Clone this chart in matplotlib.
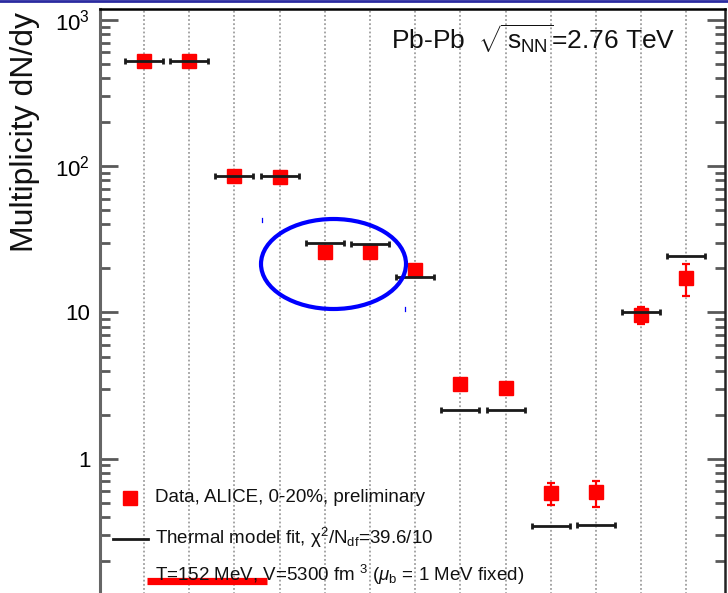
import matplotlib
matplotlib.use("Agg")
import matplotlib.pyplot as plt
from matplotlib.patches import Ellipse
from matplotlib.lines import Line2D
from matplotlib.ticker import LogLocator, FixedFormatter, FixedLocator

plt.rcParams['font.family'] = ['Liberation Sans', 'DejaVu Sans']
plt.rcParams['mathtext.fontset'] = 'custom'
plt.rcParams['mathtext.rm'] = 'Liberation Sans'
plt.rcParams['mathtext.it'] = 'Liberation Sans:italic'
plt.rcParams['mathtext.bf'] = 'Liberation Sans:bold'

# particle species along the x axis (one bin each)
particles = ['pi+', 'pi-', 'K+', 'K-', 'p', 'pbar', 'Lambda', 'Xi-', 'Xi+',
             'Omega-', 'Omega+', 'K0s', 'phi']
positions = list(range(1, len(particles) + 1))

# measured yields dN/dy with errors
data_vals = [525, 525, 86, 85, 26, 26, 19.5, 3.25, 3.05, 0.58, 0.59, 9.6, 17.2]
data_errs = [30, 30, 5, 5, 1.8, 1.8, 1.4, 0.22, 0.21, 0.10, 0.12, 1.3, 4.3]

# thermal model values
fit_vals = [525, 525, 86, 86, 30, 29.6, 17.6, 2.16, 2.16, 0.345, 0.35, 10.0, 24.5]

ytick_vals = [1, 10, 100, 1000]
ytick_text = ['1', '10', r'$10^{2}$', r'$10^{3}$']

W, H = 728, 593
fig = plt.figure(figsize=(W / 100, H / 100), dpi=100)


def fx(px):
    return px / W


def fy(py):
    return 1 - py / H


# axes frame in pixels: left 100, right 725, top 9, y=0.1 falls at 605
ax = fig.add_axes([fx(100), fy(605), fx(725) - fx(100), fy(9) - fy(605)])
ax.set_yscale('log')
ax.set_ylim(0.1, 10 ** (3 + 11 / 146.3))
ax.set_xlim(1 + (100 - 144) / 45.2, 1 + (725 - 144) / 45.2)

for p in positions:
    ax.axvline(p, ls=(0, (1, 1.3)), lw=1.3, color='0.62', zorder=1)

ax.errorbar(positions, data_vals, yerr=data_errs, fmt='s', color='red',
            ms=10.5, mec='red', elinewidth=1.6, capsize=3, capthick=1.6, zorder=3)
ax.errorbar(positions, fit_vals, xerr=0.42, fmt='none', ecolor='#1a1a1a',
            elinewidth=2, capsize=2.5, capthick=2, zorder=4)

# axis styling
ax.set_xticks([])
ax.yaxis.set_major_locator(FixedLocator(ytick_vals))
ax.yaxis.set_major_formatter(FixedFormatter(ytick_text))
ax.yaxis.set_minor_locator(LogLocator(base=10, subs=range(2, 10)))
ax.tick_params(axis='y', which='both', direction='in', right=True,
               color='0.35', width=2, labelsize=16, pad=7)
ax.tick_params(axis='y', which='major', length=13)
ax.tick_params(axis='y', which='minor', length=7)
ax.yaxis.set_minor_formatter(plt.NullFormatter())
ax.spines['left'].set_color('0.4')
ax.spines['left'].set_linewidth(2.2)
ax.spines['top'].set_linewidth(1.8)
ax.spines['right'].set_linewidth(1.8)
ax.spines['right'].set_color('#222222')

fig.text(fx(25), fy(132), 'Multiplicity dN/dy', rotation=90, fontsize=23,
         ha='center', va='center', color='#111111')

fig.text(fx(391), fy(50), r'Pb-Pb  $\sqrt{\,{\rm s}_{\rm NN}}$=2.76 TeV',
         fontsize=19, ha='left', va='baseline', color='#111111')

# legend block
fig.add_artist(Line2D([fx(130)], [fy(498)], marker='s', ms=10, color='red',
                      ls='none'))
fig.text(fx(155), fy(498), 'Data, ALICE, 0-20%, preliminary', fontsize=13.5,
         ha='left', va='center', color='#111111')
fig.add_artist(Line2D([fx(113), fx(148)], [fy(539), fy(539)], color='#1a1a1a',
                      lw=2))
fig.text(fx(155), fy(538), r'Thermal model fit, χ$^{2}$/N$_{\rm df}$=39.6/10',
         fontsize=13.5, ha='left', va='center', color='#111111')
fig.text(fx(155), fy(575), r'T=152 MeV, V=5300 fm $^{3}$ ($\mu_{\rm b}$ = 1 MeV fixed)',
         fontsize=13.5, ha='left', va='center', color='#111111')

# red underline and blue ellipse marks
fig.add_artist(Line2D([fx(147), fx(267)], [fy(580.5), fy(580.5)], color='red',
                      lw=5.2, solid_capstyle='butt'))
fig.add_artist(Ellipse((fx(333.5), fy(264)), width=145 / W, height=90 / H,
                       transform=fig.transFigure, fill=False, ec='#0000ff',
                       lw=3))
fig.add_artist(Line2D([fx(262), fx(262)], [fy(218), fy(222)], color='#0000ff',
                      lw=0.9))
fig.add_artist(Line2D([fx(405), fx(405)], [fy(307), fy(311)], color='#0000ff',
                      lw=0.9))

# slide border along the top
fig.add_artist(Line2D([0, 1], [fy(1.2), fy(1.2)], color='#2a2aa0', lw=2))

fig.savefig('out.png', dpi=100)
